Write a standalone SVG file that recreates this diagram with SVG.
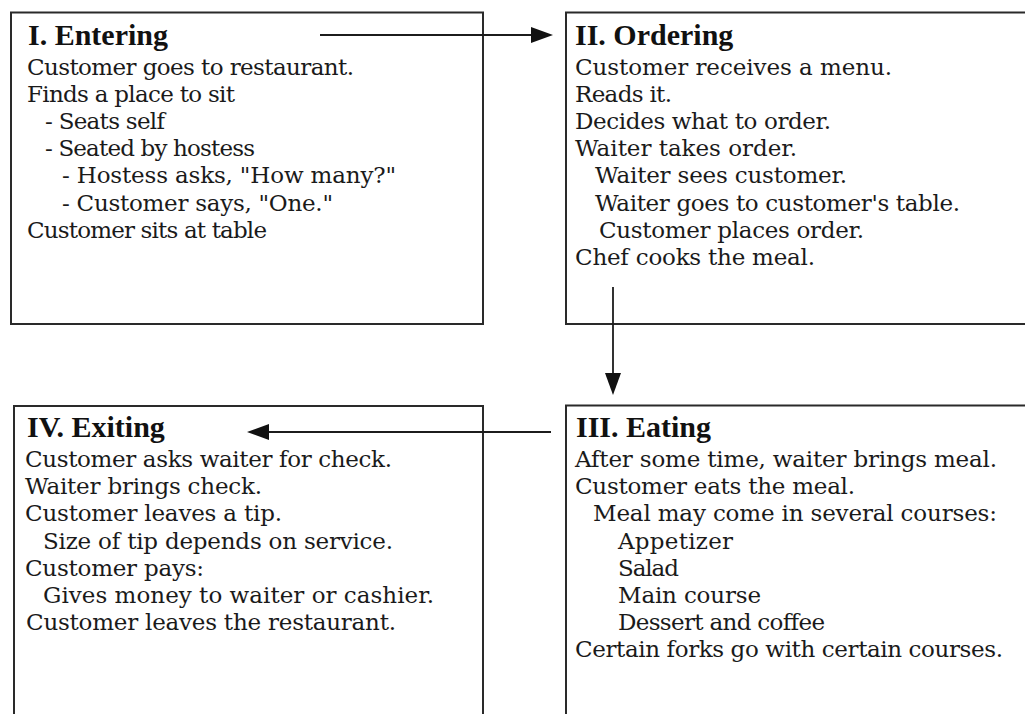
<svg xmlns="http://www.w3.org/2000/svg" width="1025" height="714" viewBox="0 0 1025 714">
<style>
.box{fill:#ffffff;stroke:#2a2a2a;stroke-width:2}
.title{font-family:"Liberation Serif","Times New Roman",serif;font-weight:bold;font-size:30px;fill:#111}
.t{font-family:"DejaVu Serif","Liberation Serif",serif;font-size:23px;fill:#1a1a1a}
.conn{fill:none;stroke:#1c1c1c;stroke-width:1.8}
</style>
<defs>
<marker id="ah" markerUnits="userSpaceOnUse" markerWidth="23" markerHeight="17" refX="18" refY="8" orient="auto" viewBox="0 0 23 17">
<path d="M0,0 L22,8 L0,16 Z" fill="#111"/>
</marker>
</defs>
<rect width="1025" height="714" fill="#ffffff"/>

<g id="node-entering">
<rect class="box" x="11" y="12.5" width="472" height="311.5"/>
<text class="title" x="28" y="45">I. Entering</text>
<text class="t" x="27" y="74.5" textLength="327">Customer goes to restaurant.</text>
<text class="t" x="27" y="101.7" textLength="208">Finds a place to sit</text>
<text class="t" x="45" y="128.9" textLength="120">- Seats self</text>
<text class="t" x="45" y="156.1" textLength="210">- Seated by hostess</text>
<text class="t" x="62" y="183.3" textLength="334">- Hostess asks, "How many?"</text>
<text class="t" x="62" y="210.5" textLength="271">- Customer says, "One."</text>
<text class="t" x="27" y="237.7" textLength="240">Customer sits at table</text>
</g>

<g id="node-ordering">
<rect class="box" x="566" y="12.5" width="470" height="311.5"/>
<text class="title" x="575" y="45">II. Ordering</text>
<text class="t" x="575" y="74.5" textLength="317">Customer receives a menu.</text>
<text class="t" x="575" y="101.7" textLength="97">Reads it.</text>
<text class="t" x="575" y="128.9" textLength="256">Decides what to order.</text>
<text class="t" x="575" y="156.1" textLength="222">Waiter takes order.</text>
<text class="t" x="595" y="183.3" textLength="252">Waiter sees customer.</text>
<text class="t" x="595" y="210.5" textLength="365">Waiter goes to customer's table.</text>
<text class="t" x="599" y="237.7" textLength="265">Customer places order.</text>
<text class="t" x="575" y="264.9" textLength="240">Chef cooks the meal.</text>
</g>

<g id="node-eating">
<rect class="box" x="566" y="405.5" width="470" height="320"/>
<text class="title" x="576" y="437">III. Eating</text>
<text class="t" x="575" y="467" textLength="422">After some time, waiter brings meal.</text>
<text class="t" x="575" y="494.2" textLength="280">Customer eats the meal.</text>
<text class="t" x="593" y="521.4" textLength="404">Meal may come in several courses:</text>
<text class="t" x="618" y="548.6" textLength="115">Appetizer</text>
<text class="t" x="618" y="575.8" textLength="61">Salad</text>
<text class="t" x="618" y="603" textLength="143">Main course</text>
<text class="t" x="618" y="630.2" textLength="207">Dessert and coffee</text>
<text class="t" x="575" y="657.4" textLength="428">Certain forks go with certain courses.</text>
</g>

<g id="node-exiting">
<rect class="box" x="14" y="406" width="469" height="320"/>
<text class="title" x="27" y="437">IV. Exiting</text>
<text class="t" x="25" y="467" textLength="367">Customer asks waiter for check.</text>
<text class="t" x="25" y="494.2" textLength="237">Waiter brings check.</text>
<text class="t" x="25" y="521.4" textLength="257">Customer leaves a tip.</text>
<text class="t" x="43" y="548.6" textLength="350">Size of tip depends on service.</text>
<text class="t" x="25" y="575.8" textLength="179">Customer pays:</text>
<text class="t" x="43" y="603" textLength="391">Gives money to waiter or cashier.</text>
<text class="t" x="26" y="630.2" textLength="370">Customer leaves the restaurant.</text>
</g>

<g id="connectors">
<path class="conn" d="M320,35 L549,35" marker-end="url(#ah)"/>
<path class="conn" d="M613,287 L613,391" marker-end="url(#ah)"/>
<path class="conn" d="M551,432 L251,432" marker-end="url(#ah)"/>
</g>
</svg>
